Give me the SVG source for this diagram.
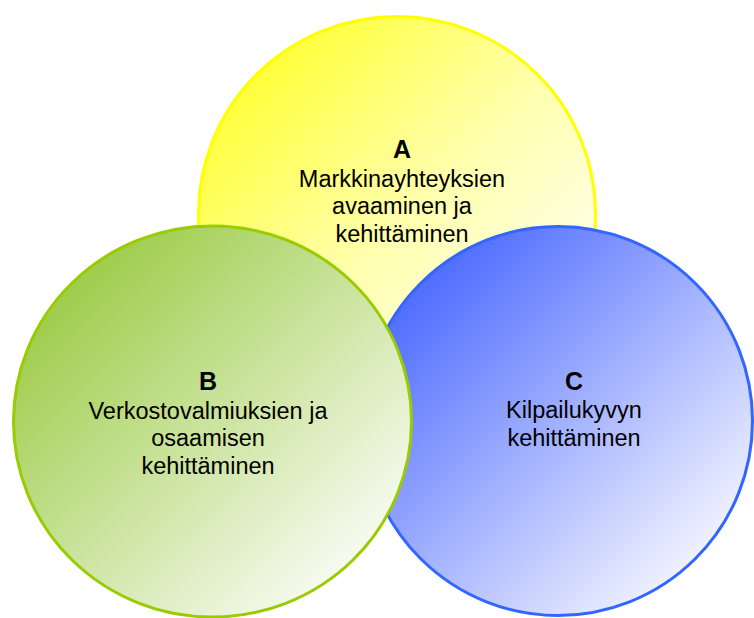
<svg xmlns="http://www.w3.org/2000/svg" width="754" height="618" viewBox="0 0 754 618">
  <style>
    .ring { stroke-width: 3; }
    .title { font-family: "Liberation Sans", Arial, sans-serif; font-weight: bold; font-size: 25px; fill: #000; text-anchor: middle; }
    .body { font-family: "Liberation Sans", Arial, sans-serif; font-size: 23.5px; fill: #000; text-anchor: middle; }
  </style>
  <defs>
    <linearGradient id="gradA" x1="0.12" y1="0.12" x2="0.88" y2="0.88">
      <stop offset="0" stop-color="#FFFF33"/>
      <stop offset="0.5" stop-color="#FFFFAA"/>
      <stop offset="1" stop-color="#FFFFF6"/>
    </linearGradient>
    <linearGradient id="gradB" x1="0.12" y1="0.12" x2="0.88" y2="0.88">
      <stop offset="0" stop-color="#9BCB45"/>
      <stop offset="1" stop-color="#FAFCF6"/>
    </linearGradient>
    <linearGradient id="gradC" x1="0.12" y1="0.12" x2="0.88" y2="0.88">
      <stop offset="0" stop-color="#4A68FF"/>
      <stop offset="1" stop-color="#F6F7FF"/>
    </linearGradient>
  </defs>

  <rect width="754" height="618" fill="#FFFFFF"/>

  <!-- A: yellow circle at the top -->
  <g id="nodeA">
    <ellipse class="ring" cx="397" cy="214" rx="198.5" ry="197.5" fill="url(#gradA)" stroke="#FFFF00"/>
    <text class="title" x="402" y="158">A</text>
    <text class="body" x="402" y="187">Markkinayhteyksien</text>
    <text class="body" x="402" y="214">avaaminen ja</text>
    <text class="body" x="402" y="241.5">kehittäminen</text>
  </g>

  <!-- C: blue circle at the right -->
  <g id="nodeC">
    <circle class="ring" cx="558" cy="421" r="194.5" fill="url(#gradC)" stroke="#3366FF"/>
    <text class="title" x="574" y="390">C</text>
    <text class="body" x="574" y="418">Kilpailukyvyn</text>
    <text class="body" x="574" y="446">kehittäminen</text>
  </g>

  <!-- B: green circle at the left, drawn on top -->
  <g id="nodeB">
    <ellipse class="ring" cx="212.5" cy="421.5" rx="199" ry="195.5" fill="url(#gradB)" stroke="#99CC00"/>
    <text class="title" x="208" y="390">B</text>
    <text class="body" x="208" y="419">Verkostovalmiuksien ja</text>
    <text class="body" x="208" y="446">osaamisen</text>
    <text class="body" x="208" y="474">kehittäminen</text>
  </g>

  <!-- no connectors in this diagram -->
  <g id="connectors"/>
</svg>
